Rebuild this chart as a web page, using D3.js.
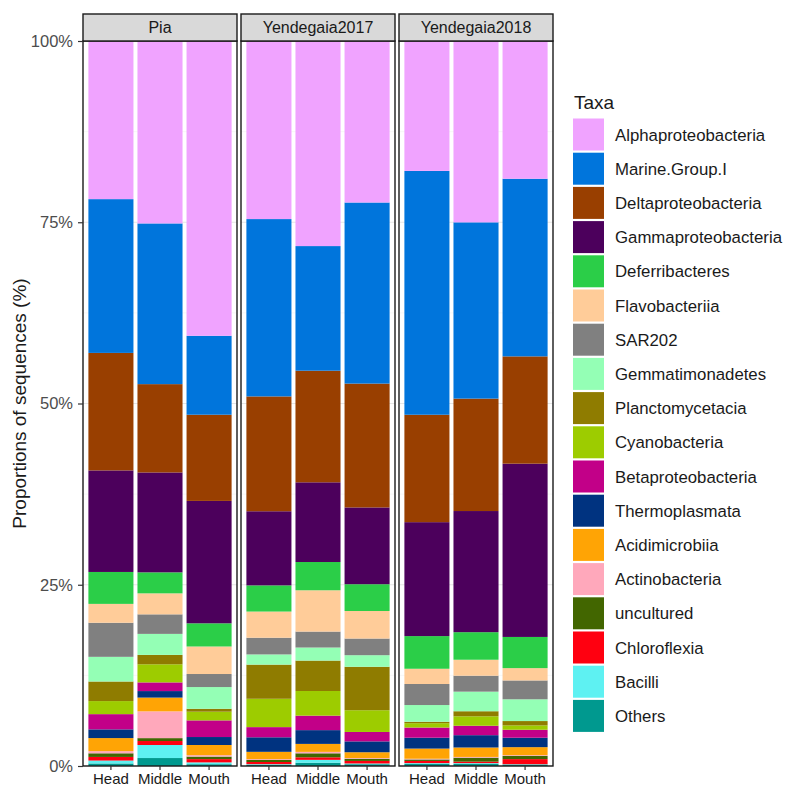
<!DOCTYPE html>
<html>
<head>
<meta charset="utf-8">
<script src="https://cdn.jsdelivr.net/npm/d3@7/dist/d3.min.js"></script>
<style>
    body { margin: 0; background: #fff; }
    text { font-family: "Liberation Sans", Arial, sans-serif; }
</style>
</head>
<body>
<div id="chart"></div>
<script>

// facets and samples
let sites = ["Pia", "Yendegaia2017", "Yendegaia2018"];
let parts = ["Head", "Middle", "Mouth"];

// legend order (first level is drawn on top of the stack)
let taxa = ["Alphaproteobacteria", "Marine.Group.I", "Deltaproteobacteria", "Gammaproteobacteria",
    "Deferribacteres", "Flavobacteriia", "SAR202", "Gemmatimonadetes", "Planctomycetacia",
    "Cyanobacteria", "Betaproteobacteria", "Thermoplasmata", "Acidimicrobiia", "Actinobacteria",
    "uncultured", "Chloroflexia", "Bacilli", "Others"];

let taxaColors = ["#F0A3FF", "#0075DC", "#993F00", "#4C005C", "#2BCE48", "#FFCC99", "#808080",
    "#94FFB5", "#8F7C00", "#9DCC00", "#C20088", "#003380", "#FFA405", "#FFA8BB", "#426600",
    "#FF0010", "#5EF1F2", "#00998F"];

// % per sample: Pia H/M/Mo, Yendegaia2017 H/M/Mo, Yendegaia2018 H/M/Mo
let alphaproteo  = [21.8, 25.2, 40.7, 24.5, 28.3, 22.3, 17.9, 25.0, 19.0];
let marineGroupI = [21.2, 22.2, 10.9, 24.4, 17.2, 25.0, 33.6, 24.3, 24.5];
let deltaproteo  = [16.2, 12.2, 11.9, 15.8, 15.4, 17.1, 14.8, 15.5, 14.8];
let gammaproteo  = [14.0, 13.8, 16.9, 10.2, 11.0, 10.6, 15.7, 16.7, 23.9];
let deferri      = [4.4, 2.9, 3.2, 3.6, 3.9, 3.7, 4.5, 3.8, 4.3];
let flavo        = [2.6, 2.9, 3.8, 3.6, 5.7, 3.8, 2.1, 2.2, 1.7];
let sar202       = [4.7, 2.7, 1.8, 2.3, 2.2, 2.3, 2.9, 2.2, 2.6];
let gemma        = [3.4, 2.9, 3.0, 1.4, 1.8, 1.6, 2.3, 2.7, 3.0];
let plancto      = [2.7, 1.3, 0.4, 4.7, 4.2, 6.0, 0.2, 0.7, 0.6];
let cyano        = [1.8, 2.5, 1.2, 3.9, 3.4, 3.0, 0.6, 1.3, 0.6];
let betaproteo   = [2.1, 1.2, 2.3, 1.4, 2.0, 1.3, 1.4, 1.3, 1.1];
let thermo       = [1.2, 0.9, 1.1, 2.0, 1.9, 1.5, 1.5, 1.7, 1.3];
let acidi        = [1.8, 1.9, 1.4, 1.0, 1.1, 0.8, 1.4, 1.3, 1.1];
let actino       = [0.3, 3.7, 0.2, 0.1, 0.2, 0.1, 0.1, 0.1, 0.1];
let uncultured   = [0.5, 0.4, 0.35, 0.3, 0.55, 0.3, 0.2, 0.55, 0.45];
let chloro       = [0.5, 0.55, 0.45, 0.3, 0.35, 0.35, 0.3, 0.2, 0.7];
let bacilli      = [0.4, 1.8, 0.25, 0.1, 0.4, 0.1, 0.1, 0.1, 0.05];
let others       = [0.35, 1.1, 0.25, 0.15, 0.45, 0.25, 0.3, 0.3, 0.2];

let yTicks = [0, 0.25, 0.5, 0.75, 1];

let series = [alphaproteo, marineGroupI, deltaproteo, gammaproteo, deferri, flavo, sar202, gemma,
    plancto, cyano, betaproteo, thermo, acidi, actino, uncultured, chloro, bacilli, others];

// build one row per sample
let rows = [];
sites.forEach(function(s, si) {
    parts.forEach(function(p, pi) {
        let row = {site: s, part: p};
        taxa.forEach(function(t, ti) {
            row[t] = series[ti][si * 3 + pi];
        });
        rows.push(row);
    });
});

let width = 787,
    height = 794;

let svg = d3.select("#chart").append("svg")
    .attr("width", width)
    .attr("height", height)
    .style("display", "block");

let panelW = 154,
    panelGap = 4,
    panelLeft = 83,
    plotTop = 41,
    plotBottom = 766,
    stripH = 27;

let y = d3.scaleLinear().domain([0, 1]).range([plotBottom, plotTop]);

let color = d3.scaleOrdinal().domain(taxa).range(taxaColors);

// ggplot fill: first level on top, so stack bottom-up in reverse order
let stack = d3.stack()
    .keys(taxa.slice().reverse())
    .offset(d3.stackOffsetExpand);

sites.forEach(function(site, si) {
    let x0 = panelLeft + si * (panelW + panelGap);
    let g = svg.append("g").attr("transform", "translate(" + x0 + ",0)");

    let x = d3.scaleBand()
        .domain(parts)
        .range([0, panelW])
        .paddingInner(0.082)
        .paddingOuter(0.11);

    // grid
    let minor = [0.125, 0.375, 0.625, 0.875];
    g.selectAll(".minor").data(minor).enter().append("line")
        .attr("x1", 0).attr("x2", panelW)
        .attr("y1", d => y(d)).attr("y2", d => y(d))
        .attr("stroke", "#f2f2f2").attr("stroke-width", 0.6);
    g.selectAll(".major").data(yTicks).enter().append("line")
        .attr("x1", 0).attr("x2", panelW)
        .attr("y1", d => y(d)).attr("y2", d => y(d))
        .attr("stroke", "#e6e6e6").attr("stroke-width", 1.1);

    let siteRows = rows.filter(d => d.site === site);
    let layers = stack(siteRows);

    g.selectAll(".layer").data(layers).enter().append("g")
        .attr("fill", d => color(d.key))
        .selectAll("rect")
        .data(d => d)
        .enter().append("rect")
        .attr("x", d => x(d.data.part))
        .attr("width", x.bandwidth())
        .attr("y", d => y(d[1]))
        .attr("height", d => y(d[0]) - y(d[1]));

    // panel border
    g.append("rect")
        .attr("x", 0).attr("y", plotTop)
        .attr("width", panelW).attr("height", plotBottom - plotTop)
        .attr("fill", "none").attr("stroke", "#1a1a1a").attr("stroke-width", 1.4);

    // strip
    g.append("rect")
        .attr("x", 0).attr("y", plotTop - stripH)
        .attr("width", panelW).attr("height", stripH)
        .attr("fill", "#d9d9d9").attr("stroke", "#1a1a1a").attr("stroke-width", 1.4);
    g.append("text")
        .attr("x", panelW / 2).attr("y", plotTop - stripH / 2)
        .attr("dy", "0.36em")
        .attr("text-anchor", "middle")
        .attr("font-size", 16)
        .attr("fill", "#1a1a1a")
        .text(site);

    // x axis
    let xAxis = g.append("g")
        .attr("transform", "translate(0," + plotBottom + ")")
        .call(d3.axisBottom(x).tickSize(4).tickPadding(3));
    xAxis.select(".domain").remove();
    xAxis.selectAll("line").attr("stroke", "#333").attr("stroke-width", 1.2);
    xAxis.selectAll("text")
        .attr("font-size", 15)
        .attr("font-family", "Liberation Sans, Arial, sans-serif")
        .attr("fill", "#1a1a1a");
});

// y axis
let yAxis = svg.append("g")
    .attr("transform", "translate(" + panelLeft + ",0)")
    .call(d3.axisLeft(y).tickValues(yTicks).tickFormat(d3.format(".0%")).tickSize(5).tickPadding(5));
yAxis.select(".domain").remove();
yAxis.selectAll("line").attr("stroke", "#333").attr("stroke-width", 1.2);
yAxis.selectAll("text")
    .attr("font-size", 16.5)
    .attr("font-family", "Liberation Sans, Arial, sans-serif")
    .attr("fill", "#4d4d4d");

svg.append("text")
    .attr("transform", "translate(19," + ((plotTop + plotBottom) / 2) + ") rotate(-90)")
    .attr("text-anchor", "middle")
    .attr("dy", "0.36em")
    .attr("font-size", 19)
    .attr("fill", "#1a1a1a")
    .text("Proportions of sequences (%)");

// legend
let legend = svg.append("g").attr("transform", "translate(573,0)");
let keyStep = 34.2,
    firstKey = 134.5;

legend.append("text")
    .attr("x", 1).attr("y", firstKey - 32)
    .attr("dy", "0.36em")
    .attr("font-size", 19)
    .attr("fill", "#1a1a1a")
    .text("Taxa");

let item = legend.selectAll(".item").data(taxa).enter().append("g")
    .attr("transform", (d, i) => "translate(0," + (firstKey + i * keyStep) + ")");
item.append("rect")
    .attr("x", 0).attr("y", -16)
    .attr("width", 31).attr("height", 32)
    .attr("fill", d => color(d));
item.append("text")
    .attr("x", 42).attr("dy", "0.36em")
    .attr("font-size", 16.8)
    .attr("fill", "#1a1a1a")
    .text(d => d);

</script>
</body>
</html>
